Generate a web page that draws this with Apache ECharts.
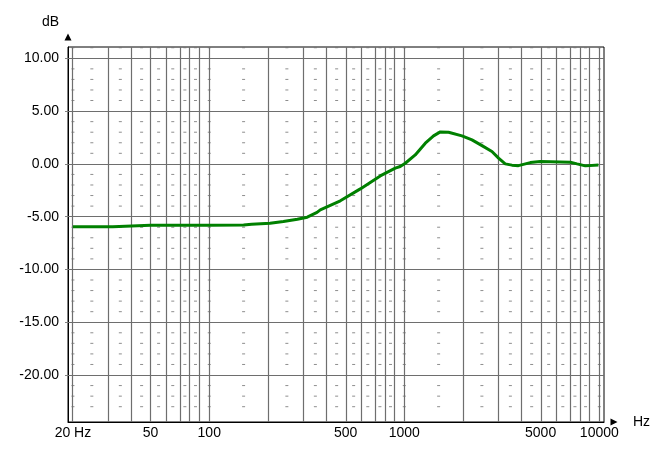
<!DOCTYPE html>
<html>
<head>
<meta charset="utf-8">
<script src="https://cdn.jsdelivr.net/npm/echarts@6/dist/echarts.min.js"></script>
<style>
  html, body { margin: 0; padding: 0; background: #fff; }
  #response { width: 672px; height: 450px; }
</style>
</head>
<body>
<div id="response"></div>
<script>
var freqs = [20, 30, 32, 32.5, 50, 100, 150, 165, 205, 240, 283, 318, 357, 371, 470, 595, 753, 899, 953,
             1012, 1138, 1282, 1413, 1530, 1687, 1976, 2224, 2503, 2815, 3044, 3293, 3566, 3850, 4428,
             4980, 7096, 7686, 8478, 9900];
var levels = [-5.95, -5.95, -5.95, -5.82, -5.82, -5.82, -5.8, -5.72, -5.63, -5.46, -5.24, -5.05, -4.6, -4.36, -3.5,
              -2.37, -1.14, -0.4, -0.25, 0.06, 0.85, 1.96, 2.65, 3.03, 3.0, 2.65, 2.27, 1.73, 1.17, 0.54,
              0.0, -0.12, -0.17, 0.12, 0.22, 0.16, 0, -0.19, -0.1];

// axis ticks / grid
var freqLabels = [20, 50, 100, 500, 1000, 5000, 10000];
var freqGrid = [20, 30, 40, 50, 60, 70, 80, 90, 100, 200, 300, 400, 500, 600, 700, 800, 900,
                1000, 2000, 3000, 4000, 5000, 6000, 7000, 8000, 9000, 10000];
var dbLabels = [-20, -15, -10, -5, 0, 5, 10];
var dotFreqs = [20, 25, 35, 45, 55, 65, 75, 85, 100, 150, 250, 350, 450, 550, 650, 750, 850,
                1000, 1500, 2500, 3500, 4500, 5500, 6500, 7500, 8500, 10000];
var dotLevels = [-23, -22, -21, -19, -18, -17, -16, -14, -13, -12, -11, -9, -8, -7, -6, -4, -3, -2, -1,
                 1, 2, 3, 4, 6, 7, 8, 9, 11];

function lg(f) { return Math.log10(f); }

var curve = [];
for (var i = 0; i < freqs.length; i++) curve.push([lg(freqs[i]), levels[i]]);

var dots = [];
for (var a = 0; a < dotFreqs.length; a++)
  for (var b = 0; b < dotLevels.length; b++)
    dots.push([lg(dotFreqs[a]), dotLevels[b]]);

var gridLines = [];
freqGrid.forEach(function (f) { gridLines.push({ xAxis: lg(f) }); });
dbLabels.forEach(function (v) { gridLines.push({ yAxis: v }); });

var dom = document.getElementById("response");
var myChart = echarts.init(dom);
var font = '"Liberation Sans", Arial, sans-serif';

option = {
  animation: false,
  backgroundColor: '#fff',
  grid: {
    left: 68, right: 68, top: 47, bottom: 28,
    show: true, borderColor: '#000', borderWidth: 1
  },
  xAxis: {
    type: 'value',
    min: lg(18.87),
    max: lg(10570),
    name: 'Hz',
    nameLocation: 'end',
    nameGap: 29,
    nameTextStyle: { color: '#000', fontSize: 14, fontFamily: font, padding: [0, 0, 6, 0] },
    axisLine: {
      show: true, onZero: false,
      lineStyle: { color: '#000', width: 1 },
      symbol: ['none', 'triangle'], symbolSize: [7, 7], symbolOffset: [0, 10]
    },
    axisTick: { show: false },
    splitLine: { show: false },
    axisLabel: {
      customValues: freqLabels.map(lg),
      margin: 4,
      color: '#000',
      fontSize: 14,
      fontFamily: font,
      formatter: function (v) {
        var f = Math.round(Math.pow(10, v));
        return f === 20 ? '20 Hz' : String(f);
      }
    }
  },
  yAxis: {
    type: 'value',
    min: -24.45,
    max: 11.07,
    name: 'dB',
    nameLocation: 'end',
    nameGap: 18,
    nameTextStyle: { color: '#000', fontSize: 14, fontFamily: font, align: 'right', padding: [0, 9, 0, 0] },
    axisLine: {
      show: true, onZero: false,
      lineStyle: { color: '#000', width: 1 },
      symbol: ['none', 'triangle'], symbolSize: [7, 7], symbolOffset: [0, 10]
    },
    axisTick: {
      show: true, customValues: dbLabels, length: 3,
      lineStyle: { color: '#808080' }
    },
    splitLine: { show: false },
    axisLabel: {
      customValues: dbLabels,
      margin: 9,
      color: '#000',
      fontSize: 14,
      fontFamily: font,
      formatter: function (v) { return v.toFixed(2); }
    }
  },
  series: [
    {
      type: 'scatter',
      data: dots,
      symbol: 'rect',
      symbolSize: [3, 1],
      silent: true,
      z: 1,
      itemStyle: { color: '#707070' },
      markLine: {
        silent: true,
        symbol: 'none',
        z: 1,
        label: { show: false },
        lineStyle: { color: '#6e6e6e', width: 1.2, type: 'solid' },
        emphasis: { disabled: true },
        data: gridLines
      }
    },
    {
      type: 'line',
      data: curve,
      showSymbol: false,
      smooth: false,
      z: 10,
      lineStyle: { color: '#008000', width: 3 }
    }
  ]
};

// Invoke
if (option && typeof option === "object") {
  myChart.setOption(option, true);
}
</script>
</body>
</html>
